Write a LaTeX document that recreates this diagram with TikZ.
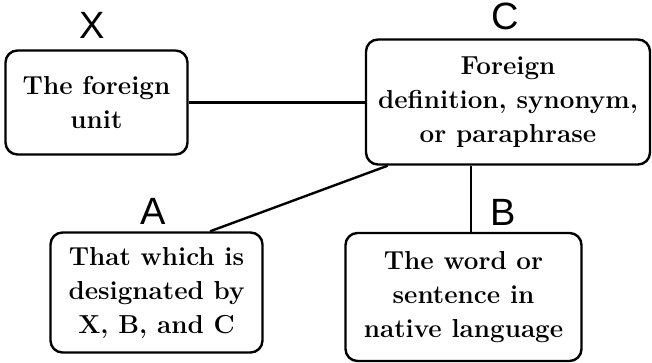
\documentclass[tikz,border=0pt]{standalone}
\usepackage{fontspec}
\newfontfamily\labelfont{Liberation Sans}
\newfontfamily\boxfont{Latin Modern Roman}
\usetikzlibrary{calc}
\tikzset{
  box/.style={draw, line width=2.4pt, rounded corners=12pt, align=center,
    inner sep=0pt, font=\boxfont\fontsize{26}{34}\selectfont\bfseries},
  tag/.style={font=\labelfont\fontsize{38}{38}\selectfont, inner sep=0pt},
  link/.style={line width=2.4pt}
}
\begin{document}
\begin{tikzpicture}[x=1pt,y=-1pt]
\useasboundingbox (0,0) rectangle (652,363);
% boxes
\node[box, minimum width=182pt, minimum height=104pt] (X) at (96.5,102.5)
  {The foreign\\unit};
\node[box, minimum width=284pt, minimum height=125pt] (C) at (508,102)
  {Foreign\\definition, synonym,\\or paraphrase};
\node[box, minimum width=212pt, minimum height=120pt] (A) at (156.5,292.5)
  {That which is\\designated by\\X, B, and C};
\node[box, minimum width=236pt, minimum height=128pt] (B) at (463.5,297)
  {The word or\\sentence in\\native language};
% letters
\node[tag] (lX) at (92,25) {X};
\node[tag] (lC) at (505,16) {C};
\node[tag] (lA) at (153,211) {A};
\node[tag] (lB) at (503,212) {B};
% connectors
\coordinate (cA) at ($(C.south west)!0.08!(C.south east)$);
\coordinate (aC) at ($(A.north west)!0.75!(A.north east)$);
\coordinate (cB) at ($(C.south west)!0.37!(C.south east)$);
\draw[link] (X.east) -- (X.east -| C.west);
\draw[link] (aC) -- (cA);
\draw[link] (cB) -- (cB |- B.north);
\end{tikzpicture}
\end{document}
